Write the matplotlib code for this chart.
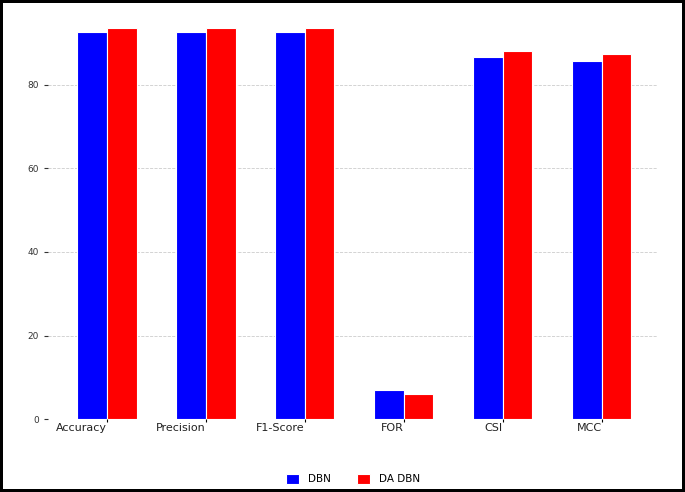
import numpy as np
import matplotlib.pyplot as plt

metrics = ["Accuracy", "Precision", "F1-Score", "FOR", "CSI", "MCC"]
dbn = [92.7, 92.6, 92.7, 6.9, 86.7, 85.8]
da_dbn = [93.6, 93.6, 93.6, 6.1, 88.1, 87.4]

x = np.arange(len(metrics))
width = 0.3

fig = plt.figure(figsize=(6.85, 4.92), dpi=100)
fig.patch.set_edgecolor("black")
fig.patch.set_linewidth(3)
ax = fig.add_axes([0.07, 0.148, 0.89, 0.835])

ax.bar(x - width / 2, dbn, width, color="blue", edgecolor="white", linewidth=0.8, label="DBN", zorder=3)
ax.bar(x + width / 2, da_dbn, width, color="red", edgecolor="white", linewidth=0.8, label="DA DBN", zorder=3)

ax.set_xticks(x)
ax.set_xticklabels(metrics, ha="right", fontsize=8, color="#222222")
ax.set_xlim(-0.596, 5.566)
ax.set_yticks([0, 20, 40, 60, 80])
ax.tick_params(axis="y", labelsize=6.5, colors="#333333", length=3)
ax.tick_params(axis="x", length=2, pad=1)
ax.grid(axis="y", linestyle="--", color="#cccccc", linewidth=0.6, zorder=0)
for s in ax.spines.values():
    s.set_visible(False)

fig.legend(loc="center", bbox_to_anchor=(0.515, 13 / 492), ncol=2, frameon=False,
           fontsize=7.5, handlelength=1.3, handleheight=1.2, columnspacing=2.5)

fig.savefig("out.png", dpi=100, edgecolor=fig.get_edgecolor())
